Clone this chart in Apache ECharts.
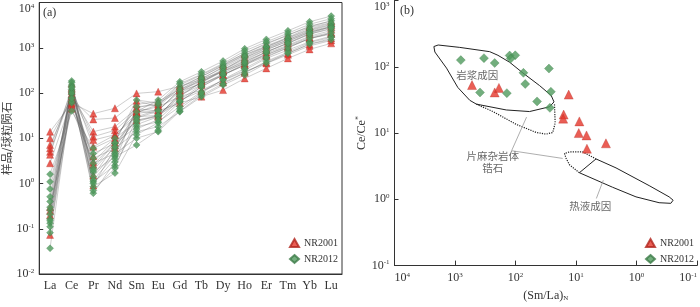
<!DOCTYPE html>
<html><head><meta charset="utf-8">
<script src="https://cdn.jsdelivr.net/npm/echarts@6/dist/echarts.min.js"></script>
<style>html,body{margin:0;padding:0;background:#fff}#c{width:700px;height:307px}</style>
</head><body><div id="c"></div>
<script>
// ---------- DATA ----------
const elements = ['La','Ce','Pr','Nd','Sm','Eu','Gd','Tb','Dy','Ho','Er','Tm','Yb','Lu'];

// Chondrite-normalised REE, one row per spot (order of elements above)
const nr2001Samples = [
  [13.9, 60, 35, 46, 98, 107, 140, 200, 300, 450, 700, 1050, 1600, 2000],
  [10, 75, 26, 28, 67, 50, 83, 116, 190, 300, 450, 700, 1100, 1450],
  [7.1, 85, 14, 18, 45, 40, 60, 83, 116, 210, 350, 582, 920, 1250],
  [6.0, 110, 10.8, 15, 40, 35, 70, 110, 170, 280, 480, 750, 1200, 1600],
  [5.0, 95, 9.1, 12, 30, 32, 90, 150, 250, 420, 700, 1100, 1700, 2200],
  [4.3, 130, 6.5, 11.8, 35, 42, 116, 180, 300, 500, 800, 1250, 2000, 2600],
  [2.8, 70, 2.6, 8, 25, 30, 100, 170, 320, 560, 900, 1400, 2200, 2900],
  [0.073, 160, 0.9, 6, 38, 50, 130, 230, 400, 700, 1100, 1700, 2800, 3600],
  [0.2, 120, 1.5, 7, 37, 55, 150, 250, 430, 750, 1200, 1900, 3000, 3900],
  [0.25, 55, 4, 10, 47, 60, 110, 160, 250, 414, 650, 1000, 1600, 2100],
  [0.3, 45, 3, 9, 56, 65, 120, 190, 330, 600, 950, 1500, 2400, 3200]
];
const nr2012Samples = [
  [1.6, 40, 6.0, 10, 23, 32, 64, 137, 250, 414, 750, 1145, 1800, 2400],
  [1.09, 60, 4.6, 7.7, 18, 23, 50, 107, 193, 321, 582, 889, 1355, 1800],
  [0.76, 95, 3.6, 6, 14, 18, 38.5, 83, 150, 249, 452, 750, 1200, 1500],
  [0.51, 120, 2.8, 4.6, 10, 14, 40, 90, 160, 280, 500, 800, 1300, 1700],
  [0.40, 150, 1.8, 3.9, 7.1, 15, 45, 100, 200, 350, 620, 1000, 1600, 2100],
  [0.26, 185, 1.41, 5, 30, 42, 107, 200, 380, 689, 1050, 1610, 2500, 3300],
  [0.21, 170, 1.09, 2.5, 20, 30, 83, 177, 321, 600, 1000, 1500, 2300, 3000],
  [0.164, 140, 0.85, 1.7, 12, 22, 64, 137, 249, 450, 800, 1300, 2075, 2900],
  [0.132, 110, 0.61, 3.0, 50, 54, 137, 229, 414, 750, 1250, 1900, 2900, 3940],
  [0.111, 80, 1.2, 4.2, 38.5, 70, 177, 294, 510, 950, 1530, 2370, 3750, 5000],
  [0.082, 65, 2.2, 8, 70, 60, 160, 260, 450, 850, 1350, 2100, 3300, 4400],
  [0.037, 100, 0.7, 2.2, 28, 40, 120, 210, 360, 640, 1050, 1650, 2600, 3500],
  [0.3, 130, 2.0, 6.5, 25, 32, 90, 170, 300, 520, 900, 1400, 2200, 2900],
  [0.15, 75, 1.0, 3.5, 16, 26, 70, 150, 270, 480, 820, 1250, 2000, 2700]
];

// Panel (b): [(Sm/La)N, Ce/Ce*]
const bNR2001 = [
  [523, 53], [221, 41], [188, 48], [13.2, 38], [16, 19], [16.3, 16.5],
  [8.8, 15], [9.0, 10], [6.7, 9.2], [3.2, 7.0], [6.6, 5.8]
];
const bNR2012 = [
  [802, 126], [332, 135], [221, 114], [125, 148], [101, 149], [120, 133],
  [74, 81], [28, 94], [69, 55], [386, 41], [139, 40], [26, 42], [44, 30], [27, 24]
];

// Discrimination fields (b) in data coordinates
const magmaticField = [
  [2234, 202], [1898, 213], [834, 196], [267, 169], [195, 149], [125, 117],
  [75.5, 80.7], [40.1, 52.1], [25.7, 36.9], [23.1, 29.5], [27.4, 24.9],
  [58.6, 21.1], [142, 22.3], [443, 27.3], [570, 31.2], [899, 48.8],
  [1380, 95.4], [2152, 167], [2234, 202]
];
const gneissField = [
  [443, 27.3], [236, 21.1], [97, 13.5], [45.4, 10.2], [31.1, 9.64],
  [24.2, 10.2], [22.1, 14.2], [22.7, 27.8]
];
const hydroField = [
  [4.67, 4.07], [2.18, 2.98], [0.618, 1.61], [0.289, 1.09], [0.248, 0.97],
  [0.271, 0.87], [0.423, 0.889], [1.02, 1.09], [2.48, 1.52], [8.79, 2.52], [4.67, 4.07]
];
const hydroTip = [
  [8.79, 2.52], [12.8, 3.32], [14.6, 4.17], [15.5, 4.92], [12.8, 5.2], [7.76, 5.2], [4.67, 4.07]
];
const leaderLines = [
  [[65.6, 17.4], [116, 5.41], [16.6, 4.14]],
  [[4.61, 1.03], [3.54, 1.94]]
];
const fieldLabels = [
  {name: '岩浆成因', value: [430, 76]},
  {name: '片麻杂岩体\n锆石', value: [238, 3.65]},
  {name: '热液成因', value: [5.83, 0.79]}
];

// ---------- CHART ----------
const SERIF = 'Liberation Serif';
const CJK = 'Noto Sans CJK SC';
const AX = '#333';
const RED = '#e5362b', GREEN = '#4f9a5c';

const richPow = {
  b: {fontSize: 12, fontFamily: SERIF, color: AX, lineHeight: 13},
  s: {fontSize: 7, fontFamily: SERIF, color: AX, lineHeight: 7, verticalAlign: 'top'}
};
function pow10(v) {
  const e = Math.round(Math.log10(v));
  return '{b|10}{s|' + e + '}';
}

const chart = echarts.init(document.getElementById('c'), null, {renderer: 'canvas'});

const series = [];
const lineStyleA = {color: '#5a5a5a', width: 0.6, opacity: 0.5};
[...nr2001Samples, ...nr2012Samples].forEach(s => {
  series.push({
    type: 'line', xAxisIndex: 0, yAxisIndex: 0, data: s, symbol: 'none',
    silent: true, lineStyle: lineStyleA, z: 2
  });
});
const flat = arr => arr.flatMap(s => s.map((v, i) => [i, v]));
series.push({
  name: 'NR2001', type: 'scatter', xAxisIndex: 0, yAxisIndex: 0,
  data: flat(nr2001Samples), symbol: 'triangle', symbolSize: 7,
  itemStyle: {color: RED, borderColor: '#b0261e', borderWidth: 0.4}, z: 3
});
series.push({
  name: 'NR2012', type: 'scatter', xAxisIndex: 0, yAxisIndex: 0,
  data: flat(nr2012Samples), symbol: 'diamond', symbolSize: 7,
  itemStyle: {color: GREEN, borderColor: '#3c7a47', borderWidth: 0.4}, z: 4
});

// Panel b fields
const fieldLine = (data, type, color, width) => ({
  type: 'line', xAxisIndex: 1, yAxisIndex: 1, data, symbol: 'none', silent: true,
  lineStyle: {color, width, type}, z: 2
});
series.push(fieldLine(magmaticField, 'solid', '#222', 1));
series.push(fieldLine(gneissField, 'dotted', '#222', 1.2));
series.push(fieldLine(hydroField, 'solid', '#222', 1));
series.push(fieldLine(hydroTip, 'dotted', '#222', 1.2));
leaderLines.forEach(l => series.push(fieldLine(l, 'solid', '#999', 0.8)));
series.push({
  type: 'scatter', xAxisIndex: 1, yAxisIndex: 1, data: fieldLabels, symbolSize: 0,
  silent: true, z: 5,
  label: {show: true, position: 'inside', formatter: '{b}', fontFamily: CJK, fontSize: 10.5,
          color: '#444', lineHeight: 12, align: 'center', verticalAlign: 'middle'}
});
series.push({
  name: 'NR2001', type: 'scatter', xAxisIndex: 1, yAxisIndex: 1, data: bNR2001,
  symbol: 'triangle', symbolSize: 9, itemStyle: {color: RED, borderColor: '#b0261e', borderWidth: 0.4}, z: 4
});
series.push({
  name: 'NR2012', type: 'scatter', xAxisIndex: 1, yAxisIndex: 1, data: bNR2012,
  symbol: 'diamond', symbolSize: 9, itemStyle: {color: GREEN, borderColor: '#3c7a47', borderWidth: 0.4}, z: 4
});

const legendBase = {
  orient: 'vertical', itemWidth: 9, itemHeight: 8, itemGap: 6, padding: 0,
  textStyle: {fontFamily: SERIF, fontSize: 10, color: AX},
  data: [{name: 'NR2001', icon: 'triangle'}, {name: 'NR2012', icon: 'diamond'}],
  selectedMode: false
};

const option = {
  animation: false,
  backgroundColor: '#fff',
  grid: [
    {left: 38, top: 2.5, width: 304, height: 271.5, show: true, borderColor: AX, borderWidth: 1},
    {left: 394.5, top: 0.5, width: 303.5, height: 273.5}
  ],
  legend: [
    Object.assign({left: 289, top: 238}, legendBase),
    Object.assign({left: 645, top: 238}, legendBase)
  ],
  xAxis: [
    {
      type: 'category', gridIndex: 0, data: elements, boundaryGap: true,
      axisLine: {lineStyle: {color: AX}},
      axisTick: {inside: true, length: 5, interval: 0, lineStyle: {color: AX}},
      axisLabel: {fontFamily: SERIF, fontSize: 12, color: AX, margin: 6, interval: 0}
    },
    {
      type: 'log', gridIndex: 1, min: 0.1, max: 10000, inverse: true, splitNumber: 5,
      axisLine: {lineStyle: {color: AX}},
      axisTick: {inside: true, length: 5, lineStyle: {color: AX}},
      splitLine: {show: false},
      axisLabel: {formatter: pow10, rich: richPow, margin: 6, alignMinLabel: 'right', alignMaxLabel: 'left'},
      name: '(Sm/La){sub|N}', nameLocation: 'middle', nameGap: 22,
      nameTextStyle: {fontFamily: SERIF, fontSize: 12, color: AX,
        rich: {sub: {fontFamily: SERIF, fontSize: 7, color: AX, verticalAlign: 'bottom', lineHeight: 7, padding: [6,0,0,0]}}}
    }
  ],
  yAxis: [
    {
      type: 'log', gridIndex: 0, min: 0.01, max: 10000, splitNumber: 6,
      axisLine: {show: true, lineStyle: {color: AX}},
      axisTick: {show: true, inside: true, length: 4, lineStyle: {color: AX}},
      splitLine: {show: false},
      axisLabel: {formatter: pow10, rich: richPow, margin: 5, verticalAlignMaxLabel: 'top'},
      name: '样品/球粒陨石', nameLocation: 'middle', nameGap: 26, nameRotate: 90,
      nameTextStyle: {fontFamily: CJK, fontSize: 11.5, color: '#444'}
    },
    {
      type: 'log', gridIndex: 1, min: 0.1, max: 1000, splitNumber: 4,
      axisLine: {show: true, lineStyle: {color: AX}},
      axisTick: {show: true, inside: true, length: 4, lineStyle: {color: AX}},
      splitLine: {show: false},
      axisLabel: {formatter: pow10, rich: richPow, margin: 5, verticalAlignMaxLabel: 'top'},
      name: '{n|Ce/Ce}{sup|*}', nameLocation: 'middle', nameGap: 23, nameRotate: 90,
      nameTextStyle: {fontFamily: SERIF, fontSize: 12, color: AX,
        rich: {n: {fontFamily: SERIF, fontSize: 12, color: AX, lineHeight: 13},
               sup: {fontFamily: SERIF, fontSize: 8, color: AX, lineHeight: 8, verticalAlign: 'top'}}}
    }
  ],
  graphic: [
    {type: 'text', left: 43, top: 7, style: {text: '(a)', font: '12px "Liberation Serif"', fill: AX}},
    {type: 'text', left: 400, top: 5, style: {text: '(b)', font: '12px "Liberation Serif"', fill: AX}}
  ],
  series
};
chart.setOption(option);
</script>
</body></html>
